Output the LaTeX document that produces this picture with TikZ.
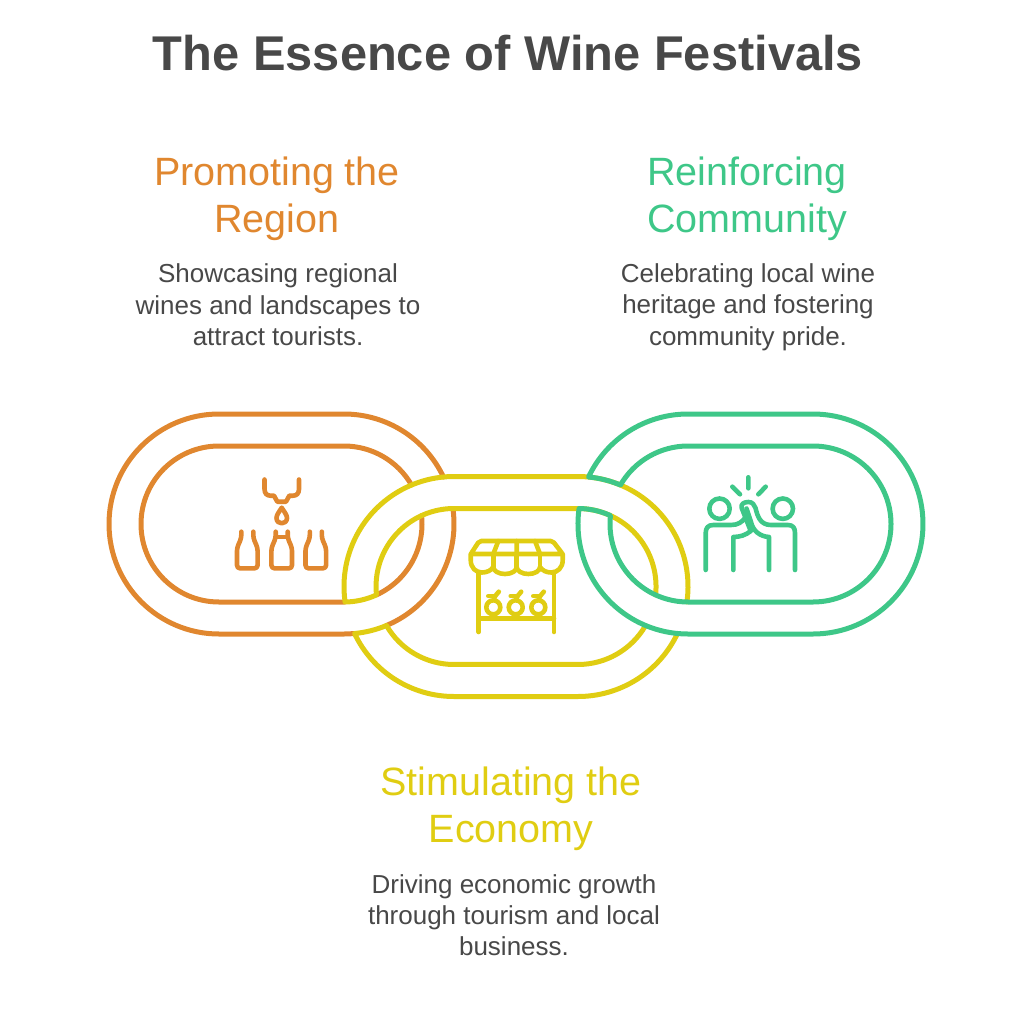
\documentclass[tikz,border=0pt]{standalone}
\usepackage{fontspec}
\setmainfont{Liberation Sans}
\definecolor{winegrey}{HTML}{484848}
\definecolor{wineorange}{HTML}{E0872F}
\definecolor{wineyellow}{HTML}{E0CD12}
\definecolor{winegreen}{HTML}{3EC788}
\tikzset{
 titletext/.style={text=winegrey,align=center,font=\fontsize{48.8}{58}\selectfont\bfseries},
 headtext/.style={align=center,font=\fontsize{39.5}{47}\selectfont},
 bodytext/.style={text=winegrey,align=center,font=\fontsize{26}{31.3}\selectfont},
 ringline/.style={line width=5pt,line join=round,line cap=round},
 iconline/.style={line width=4.6pt,line join=round,line cap=round}
}
\begin{document}
\begin{tikzpicture}[x=1pt,y=-1pt]
 \def\ro{110} \def\ri{78}
 \useasboundingbox (0,0) rectangle (1017,1024);
 \node[titletext] (title) at (508,53) {The Essence of Wine Festivals};
 \node[headtext,text=wineorange] (headleft) at (277,199) {Promoting the\\Region};
 \node[bodytext] (bodyleft) at (278,305) {Showcasing regional\\wines and landscapes to\\attract tourists.};
 \node[headtext,text=winegreen] (headright) at (747,199) {Reinforcing\\Community};
 \node[bodytext] (bodyright) at (748,307) {Celebrating local wine\\heritage and fostering\\community pride.};
 \node[headtext,text=wineyellow] (headmid) at (511,809) {Stimulating the\\Economy};
 \node[bodytext] (bodymid) at (514,915) {Driving economic growth\\through tourism and local\\business.};
 % arc centres of the three links
 \coordinate (A) at (344,524);
 \coordinate (B) at (454,586.5);
 \coordinate (C) at (578,586.5);
 \coordinate (D) at (688,524);
 % orange link
 \begin{scope}[ringline,wineorange]
 \draw (A) ++(84.5:\ro) arc[start angle=84.5,end angle=90,radius=\ro] -- ++(-125,0)
  arc[start angle=90,end angle=270,radius=\ro] -- ++(125,0) arc[start angle=270,end angle=334.7,radius=\ro];
 \draw (A) ++(67.3:\ro) arc[start angle=67.3,end angle=-8.1,radius=\ro];
 \draw (A) ++(89.2:\ri) arc[start angle=89.2,end angle=90,radius=\ri] -- ++(-125,0)
  arc[start angle=90,end angle=270,radius=\ri] -- ++(125,0) arc[start angle=270,end angle=330,radius=\ri];
 \draw (A) ++(65.4:\ri) arc[start angle=65.4,end angle=-6.2,radius=\ri];
 \end{scope}
 % yellow link
 \begin{scope}[ringline,wineyellow]
 \draw (C) ++(8.1:\ro) arc[start angle=8.1,end angle=-90,radius=\ro] -- ++(-124,0)
  arc[start angle=270,end angle=171.9,radius=\ro]
  arc[start angle=89.2,end angle=65.4,radius=\ri]
  arc[start angle=173.8,end angle=270,radius=\ri] -- ++(124,0) arc[start angle=270,end angle=366.2,radius=\ri];
 \draw (C) ++(25.3:\ro) arc[start angle=25.3,end angle=90,radius=\ro] -- ++(-124,0)
  arc[start angle=90,end angle=154.7,radius=\ro]
  arc[start angle=84.5,end angle=67.3,radius=\ro]
  arc[start angle=150,end angle=90,radius=\ri] -- ++(124,0) arc[start angle=90,end angle=30,radius=\ri];
 \end{scope}
 % green link
 \begin{scope}[ringline,winegreen]
 \draw (D) ++(210:\ri) arc[start angle=210,end angle=270,radius=\ri] -- ++(125,0)
  arc[start angle=-90,end angle=90,radius=\ri] -- ++(-125,0)
  arc[start angle=90,end angle=186.2,radius=\ri]
  arc[start angle=-65.4,end angle=-89.2,radius=\ri]
  arc[start angle=188.1,end angle=90,radius=\ro] -- ++(125,0)
  arc[start angle=90,end angle=-90,radius=\ro] -- ++(-125,0)
  arc[start angle=270,end angle=205.3,radius=\ro]
  arc[start angle=-84.5,end angle=-67.3,radius=\ro] -- cycle;
 \end{scope}
 % decanter and bottles
 \begin{scope}[iconline,wineorange]
 \draw (264.5,479.5)--(264.5,489) .. controls (264.5,493.5) and (267,495.7) .. (270.5,495.7)
  --(274,495.7)--(277.3,501.7)--(286,501.7)--(289.3,495.7)--(293,495.7)
  .. controls (296.5,495.7) and (299,493.5) .. (299,489)--(299,479.5);
 \draw (281.7,507.7) .. controls (279,512) and (276.5,515) .. (276.5,518)
  .. controls (276.5,521.5) and (279,523.3) .. (281.7,523.3)
  .. controls (284.4,523.3) and (287,521.5) .. (287,518)
  .. controls (287,515) and (284.4,512) .. (281.7,507.7) -- cycle;
 \foreach \bx in {247.3,281.7,315.8}{
  \draw[rounded corners=3pt] (\bx-6,531.7)--(\bx-6,538)--(\bx-10.3,548)--(\bx-10.3,568.3)
   --(\bx+10.3,568.3)--(\bx+10.3,548)--(\bx+6,538)--(\bx+6,531.7);
 }
 \draw (275.7,537)--(287.7,537);
 \end{scope}
 % market stall
 \begin{scope}[iconline,wineyellow]
 \draw[rounded corners=2pt] (470.7,554)--(479.3,541)--(552.7,541)--(562.7,554)--cycle;
 \draw (498.3,541)--(493.3,554) (516.7,541)--(516.7,554) (535,541)--(540,554);
 \draw (470.7,554)--(470.7,560) .. controls (470.7,568) and (476,572.5) .. (482,572.5)
  .. controls (487,572.5) and (491,570.5) .. (493.3,567)
  arc[start angle=180,end angle=0,x radius=11.7,y radius=7]
  arc[start angle=180,end angle=0,x radius=11.65,y radius=7]
  .. controls (542.3,570.5) and (546.3,572.5) .. (551.3,572.5)
  .. controls (557.3,572.5) and (562.7,568) .. (562.7,560)--(562.7,554);
 \draw (493.3,554)--(493.3,567) (516.7,554)--(516.7,567) (540,554)--(540,567);
 \draw (478.7,572)--(478.7,632) (554,572)--(554,632) (478.7,618.3)--(554,618.3);
 \foreach \fx in {493.3,515.7,538.3}{
  \draw (\fx,607.3) circle[radius=7];
  \draw (\fx+0.5,600) .. controls (\fx+1,596) and (\fx+3,595) .. (\fx+5.5,591.7);
  \draw (\fx-5,596) -- (\fx+1.5,596);
 }
 \end{scope}
 % high five
 \begin{scope}[iconline,winegreen]
 \draw (719.5,508.7) circle[radius=10.2];
 \draw (782.8,508.7) circle[radius=10.2];
 \draw (748.3,477.3)--(748.3,488.3) (732.3,486.7)--(740,494.3) (765.7,486.7)--(758.3,494.3);
 \draw (705.7,570)--(705.7,533) .. controls (705.7,528) and (708,525) .. (713.3,525)--(731,525)
  .. controls (738,525) and (742,522) .. (745,518);
 \draw (750.7,531) -- (741.7,508) .. controls (740.5,504) and (744,502) .. (748.5,502)
  .. controls (752.5,502) and (754.5,505) .. (755.5,508) .. controls (757.5,516) and (760,525) .. (771,525)
  --(788,525) .. controls (793,525) and (795,528) .. (795,533)--(795,570);
 \draw (746.5,508.5) -- (751,522) .. controls (753,531) and (760,536.5) .. (769,537) -- (769,570);
 \draw (733.3,570)--(733.3,537) .. controls (740,537) and (746,535) .. (750.7,531);
 \end{scope}
\end{tikzpicture}
\end{document}
